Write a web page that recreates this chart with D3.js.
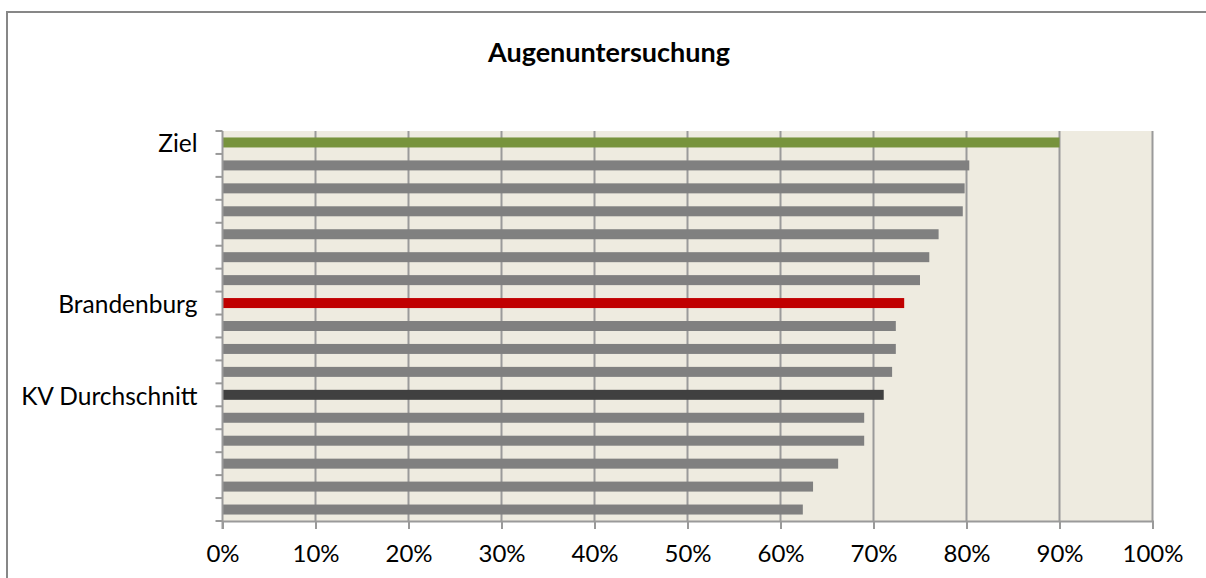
<!DOCTYPE html>
<html>
<head>
<meta charset="utf-8">
<script src="https://cdn.jsdelivr.net/npm/d3@7"></script>
<style>
  html, body { margin: 0; padding: 0; background: #fff; }
  svg { display: block; }
  text { font-family: Lato, "Open Sans", sans-serif; fill: #000; }
</style>
</head>
<body>
<svg id="chart" width="1206" height="578"></svg>
<script>
const title = "Augenuntersuchung";
const categories = ["Ziel", "", "", "", "", "", "", "Brandenburg", "", "", "", "KV Durchschnitt", "", "", "", "", ""];
const values = [90, 80.3, 79.8, 79.6, 77.0, 76.0, 75.0, 73.3, 72.4, 72.4, 72.0, 71.1, 69.0, 69.0, 66.2, 63.5, 62.4];
const barColors = ["#77933C", "#808080", "#808080", "#808080", "#808080", "#808080", "#808080", "#C00000", "#808080", "#808080", "#808080", "#404040", "#808080", "#808080", "#808080", "#808080", "#808080"];
const xTicks = [0, 10, 20, 30, 40, 50, 60, 70, 80, 90, 100];

const svg = d3.select("#chart");
const W = 1206, H = 578;

// outer chart border
svg.append("rect").attr("x", 7).attr("y", 12).attr("width", W).attr("height", H)
  .attr("fill", "#fff").attr("stroke", "#878787").attr("stroke-width", 2);

const plot = { left: 222.5, right: 1152.5, top: 131, bottom: 521 };

const x = d3.scaleLinear().domain([0, 100]).range([plot.left, plot.right]);
const idx = d3.range(categories.length);
const yb = d3.scaleBand().domain(idx).range([plot.top, plot.bottom]);

// plot background
svg.append("rect").attr("x", plot.left).attr("y", plot.top)
  .attr("width", plot.right - plot.left).attr("height", plot.bottom - plot.top)
  .attr("fill", "#EEEBE0");

// gridlines
svg.append("g").selectAll("line").data(xTicks.slice(1)).join("line")
  .attr("x1", d => x(d)).attr("x2", d => x(d))
  .attr("y1", plot.top).attr("y2", plot.bottom)
  .attr("stroke", "#9a9a9a").attr("stroke-width", 2);

// bars
svg.append("g").selectAll("rect").data(values).join("rect")
  .attr("x", x(0))
  .attr("y", (d, i) => yb(i) + yb.bandwidth() / 2 - 5)
  .attr("width", d => x(d) - x(0))
  .attr("height", 10)
  .attr("fill", (d, i) => barColors[i]);

// x axis
const xAxis = d3.axisBottom(x).tickValues(xTicks).tickFormat(d => d + "%").tickSize(8);
const gx = svg.append("g").attr("transform", `translate(0,${plot.bottom})`).call(xAxis);
gx.select(".domain").attr("stroke", "#9a9a9a").attr("stroke-width", 2);
gx.selectAll(".tick line").attr("stroke", "#9a9a9a").attr("stroke-width", 2);
gx.selectAll(".tick text")
  .attr("y", 41).attr("dy", 0)
  .style("font-size", "24px").style("font-family", "Lato, 'Open Sans', sans-serif").attr("fill", "#000");

// y axis: ticks at band boundaries
const boundaries = idx.map(i => yb(i)).concat([plot.bottom]);
svg.append("g").selectAll("line").data(boundaries).join("line")
  .attr("x1", plot.left - 7).attr("x2", plot.left)
  .attr("y1", d => d).attr("y2", d => d)
  .attr("stroke", "#9a9a9a").attr("stroke-width", 2);
svg.append("line").attr("x1", plot.left).attr("x2", plot.left)
  .attr("y1", plot.top).attr("y2", plot.bottom + 8)
  .attr("stroke", "#9a9a9a").attr("stroke-width", 2);

// category labels
svg.append("g").selectAll("text").data(categories).join("text")
  .attr("x", plot.left - 25)
  .attr("y", (d, i) => yb(i) + yb.bandwidth() / 2)
  .attr("dy", "0.4em")
  .attr("text-anchor", "end")
  .style("font-size", "24.5px")
  .text(d => d);

// title
svg.append("text").attr("x", 609).attr("y", 62)
  .attr("text-anchor", "middle")
  .style("font-size", "27px").style("font-weight", "bold")
  .text(title);
</script>
</body>
</html>
